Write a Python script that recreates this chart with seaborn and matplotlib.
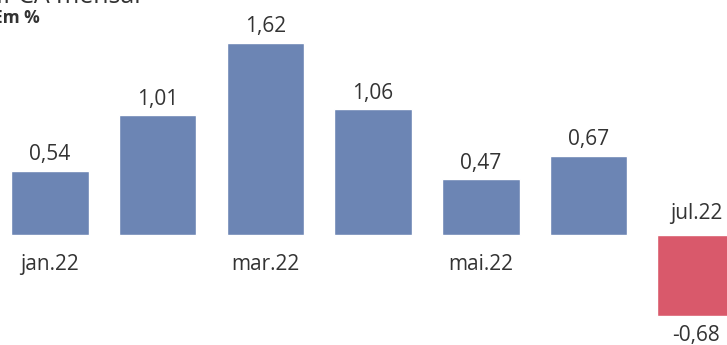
import matplotlib
matplotlib.use("Agg")
import matplotlib.pyplot as plt
import seaborn as sns
import pandas as pd

# Monthly IPCA variation, in %
months = ["jan.22", "fev.22", "mar.22", "abr.22", "mai.22", "jun.22", "jul.22"]
values = [0.54, 1.01, 1.62, 1.06, 0.47, 0.67, -0.68]
shown_months = ["jan.22", "mar.22", "mai.22", "jul.22"]

BLUE = "#6c85b4"
RED = "#d9596b"
TEXT = "#333333"
FS = 15

sns.set_theme(style="white")
plt.rcParams["font.family"] = ["Open Sans", "DejaVu Sans"]

df = pd.DataFrame({"mes": months, "valor": values})
df["sinal"] = ["neg" if v < 0 else "pos" for v in values]

fig = plt.figure(figsize=(7.27, 3.45), dpi=100)
ax = fig.add_axes([0, 0, 1, 1])

sns.barplot(data=df, x="mes", y="valor", hue="sinal",
            palette={"pos": BLUE, "neg": RED}, width=0.72,
            dodge=False, legend=False, ax=ax, saturation=1)

ax.set_xlim(-0.464, 6.286)
ax.set_ylim(-0.928, 1.983)
ax.axis("off")

for i, (m, v) in enumerate(zip(months, values)):
    txt = f"{v:.2f}".replace(".", ",")
    if v >= 0:
        ax.annotate(txt, (i, v), xytext=(0, 4), textcoords="offset points",
                    ha="center", va="bottom", fontsize=FS, color=TEXT)
    else:
        ax.annotate(txt, (i, v), xytext=(0, -7), textcoords="offset points",
                    ha="center", va="top", fontsize=FS, color=TEXT)
    if m in shown_months:
        if v >= 0:
            ax.annotate(m, (i, 0), xytext=(0, -14), textcoords="offset points",
                        ha="center", va="top", fontsize=FS, color=TEXT)
        else:
            ax.annotate(m, (i, 0), xytext=(0, 8), textcoords="offset points",
                        ha="center", va="bottom", fontsize=FS, color=TEXT)

fig.text(-0.009, 0.948, "Em %", fontsize=12.5, fontweight="bold",
         color=TEXT, ha="left", va="center")
fig.text(-0.005, 1.01, "IPCA mensal", fontsize=18, color=TEXT,
         ha="left", va="center")

fig.savefig("out.png", dpi=100)
